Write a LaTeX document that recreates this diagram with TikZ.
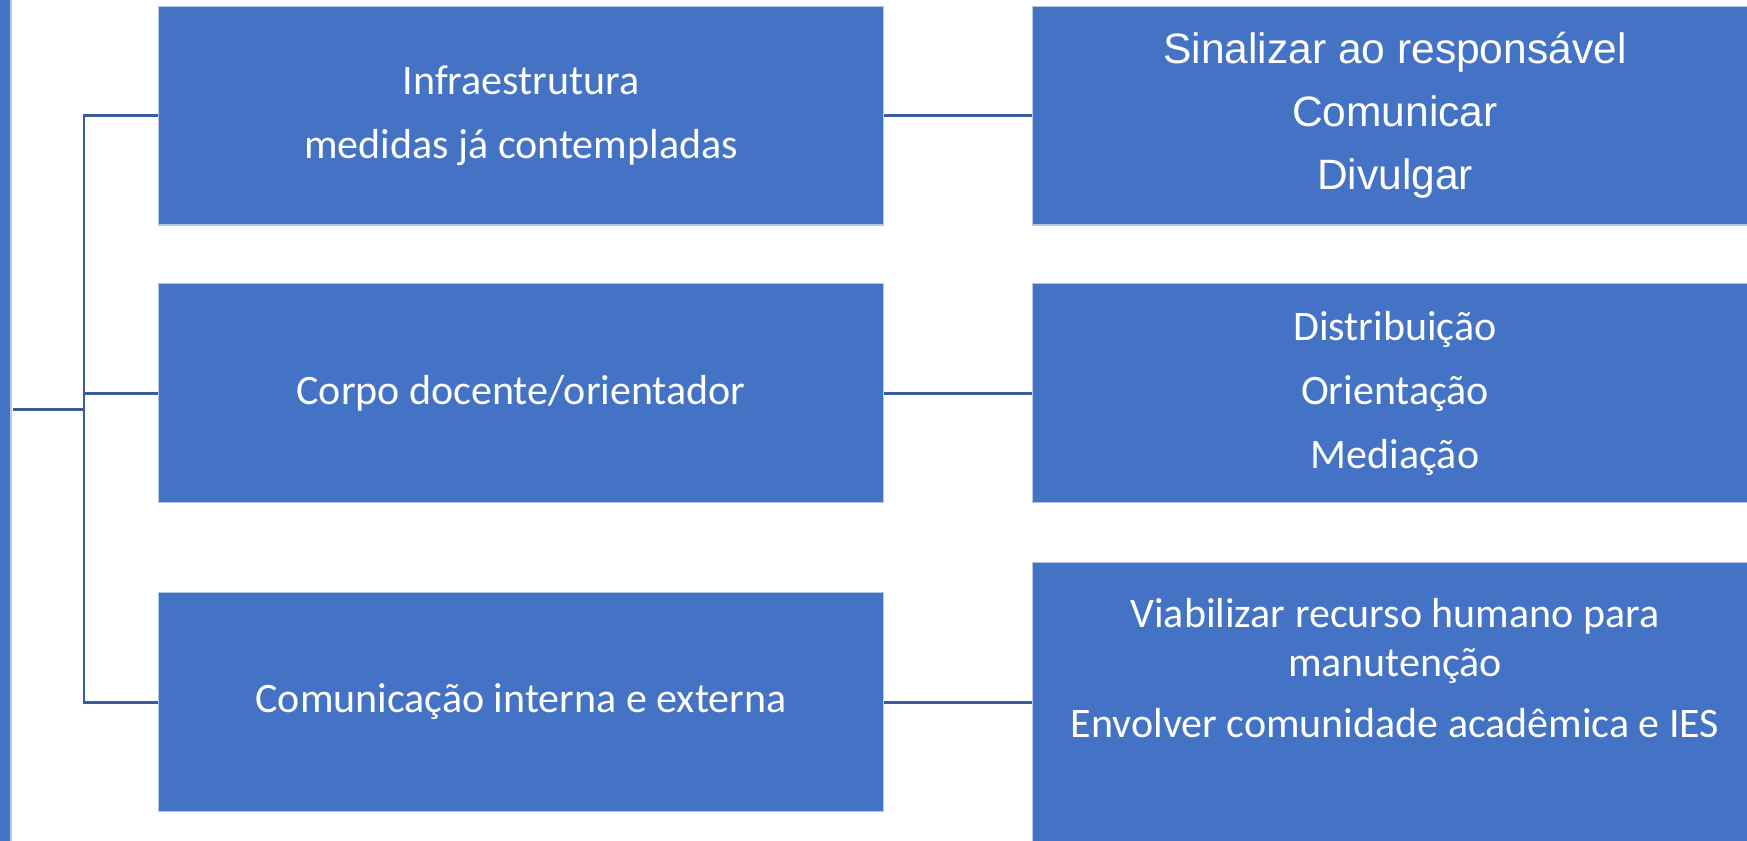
\documentclass[tikz,border=0pt]{standalone}
\usepackage{fontspec}
\setmainfont{Carlito}
\newfontfamily\arialfont{Liberation Sans}
\usetikzlibrary{positioning}
\definecolor{boxBlue}{HTML}{4472C4}
\definecolor{edgeBlue}{HTML}{B4C7E7}
\definecolor{lineBlue}{HTML}{3A5DA2}

\tikzset{
  stepbox/.style={rectangle, fill=boxBlue, draw=edgeBlue, line width=0.6pt,
    minimum width=14.52cm, minimum height=4.38cm, inner sep=0pt,
    text=white, align=center, font=\fontsize{23.9pt}{36.4pt}\selectfont},
  link/.style={draw=lineBlue, line width=1.7pt},
}

\begin{document}
\begin{tikzpicture}[x=0.02cm, y=-0.02cm]
    \useasboundingbox (0,0) rectangle (1747,840);

    % Left edge band
    \path[fill=boxBlue, draw=edgeBlue, line width=0.6pt] (-10,-10) rectangle (11,850);

    % Left column
    \node[stepbox] (l1) at (521,115.5) {Infraestrutura\\medidas já contempladas};
    \node[stepbox] (l2) at (521,393) {Corpo docente/orientador};
    \node[stepbox] (l3) at (521,702) {Comunicação interna e externa};

    % Right column
    \node[stepbox, font=\arialfont\fontsize{24.2pt}{35.9pt}\selectfont] (r1) at (1395,115.5)
        {Sinalizar ao responsável\\Comunicar\\Divulgar};
    \node[stepbox] (r2) at (1395,393) {Distribuição\\Orientação\\Mediação};
    \node[stepbox, minimum height=5.9cm, anchor=north west] (r3) at (1032,562) {};
    \node[text=white, align=center, inner sep=0pt,
          font=\fontsize{23.9pt}{27.6pt}\selectfont] (r3text) at (1395,668)
        {Viabilizar recurso humano para\\manutenção\\[7pt]Envolver comunidade acadêmica e IES};

    % Tree on the left
    \coordinate (root) at (13,409);
    \coordinate (trunk) at (84,409);
    \draw[link] (root) -- (trunk);
    \draw[link] (l1.west) -| (trunk) |- (l3.west);
    \draw[link] (trunk |- l2.west) -- (l2.west);

    % Links between columns
    \draw[link] (l1.east) -- (r1.west);
    \draw[link] (l2.east) -- (r2.west);
    \draw[link] (l3.east) -- (l3.east -| r3.west);
\end{tikzpicture}
\end{document}
